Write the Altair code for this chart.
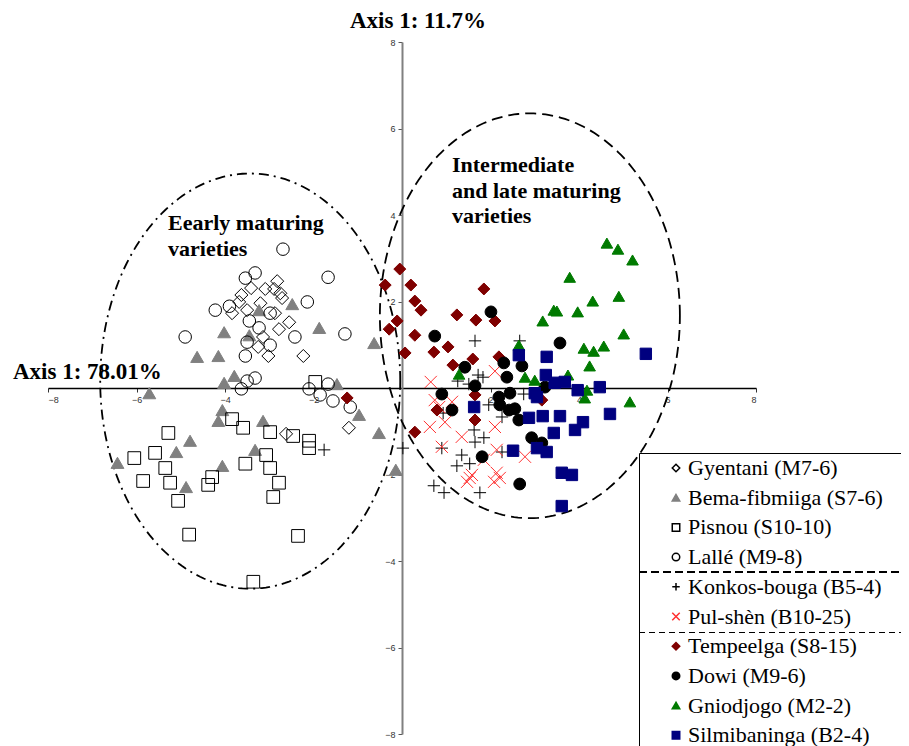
import altair as alt
import pandas as pd
import numpy as np

# ---------------- data ----------------
series_names = ["Gyentani (M7-6)", "Bema-fibmiiga (S7-6)", "Pisnou (S10-10)", "Lallé (M9-8)",
                "Konkos-bouga (B5-4)", "Pul-shèn (B10-25)", "Tempeelga (S8-15)", "Dowi (M9-6)",
                "Gniodjogo (M2-2)", "Silmibaninga (B2-4)"]

gy_x = [-2.82, -3.41, -3.09, -2.89, -2.75, -3.63, -2.71, -3.68, -3.20, -3.50, -3.84, -2.87, -2.55, -2.78, -3.14, -3.25, -3.02, -2.23, -2.62, -1.20]
gy_y = [2.47, 2.31, 2.29, 2.29, 2.19, 2.15, 2.08, 1.99, 1.96, 1.80, 1.73, 1.73, 1.52, 1.36, 1.18, 0.95, 0.74, 0.74, -1.06, -0.92]

be_x = [-2.48, -3.23, -4.02, -1.87, -0.63, -3.45, -4.63, -4.15, -3.79, -4.02, -1.47, -5.71, -4.06, -4.15, -3.14, -4.79, -5.10, -3.32, -6.43, -4.06, -4.88, -0.97, -0.52, -0.14]
be_y = [1.94, 1.80, 1.29, 1.39, 1.04, 1.22, 0.72, 0.74, 0.28, 0.12, 0.09, -0.12, -0.51, -0.76, -0.76, -1.22, -1.48, -1.43, -1.73, -1.80, -2.29, -0.62, -1.04, -1.89]

pi_x = [-3.84, -3.59, -2.98, -2.46, -2.10, -2.10, -5.28, -5.58, -6.05, -5.35, -3.07, -3.54, -2.98, -5.85, -5.24, -4.29, -4.38, -2.78, -5.06, -2.91, -4.81, -2.35, -3.36, -1.96]
pi_y = [-0.72, -0.92, -1.02, -1.11, -1.22, -1.39, -1.04, -1.50, -1.62, -1.85, -1.55, -1.75, -1.85, -2.15, -2.19, -2.06, -2.24, -2.19, -2.61, -2.52, -3.39, -3.42, -4.48, 0.14]

la_x = [-2.69, -3.54, -3.32, -1.67, -2.14, -4.22, -3.90, -3.45, -3.23, -2.98, -3.50, -2.98, -4.90, -2.42, -1.29, -3.54, -3.32, -3.50, -3.63, -2.10, -1.85, -1.67, -1.56, -1.17]
la_y = [3.21, 2.54, 2.66, 2.56, 1.99, 1.80, 1.89, 1.55, 1.39, 1.73, 1.06, 0.99, 1.18, 1.18, 1.25, 0.74, 0.23, 0.16, -0.02, -0.02, -0.16, 0.09, -0.30, -0.44]

ko_x = [1.65, 2.66, 1.72, 1.83, 1.26, 1.51, 1.96, 2.75, 0.93, 1.63, 1.65, 1.85, 2.26, 2.26, 1.35, 1.24, 1.53, 0.02, 0.90, 0.72, 0.95, 1.76, -1.76]
ko_y = [1.09, 1.09, 0.30, 0.25, 0.16, 0.09, -0.39, -0.14, -0.58, -0.97, -1.25, -1.15, -0.67, -1.48, -1.55, -1.80, -1.75, -1.39, -1.39, -2.26, -2.42, -2.42, -1.43]

pu_x = [0.65, 0.74, 1.13, 0.63, 0.97, 1.35, 2.10, 0.90, 2.14, 2.78, 1.53, 1.47, 2.14, 2.08, 1.85, 2.10, 1.58, 2.21, 0.84]
pu_y = [0.14, -0.28, -0.32, -0.90, -0.79, -1.13, -0.90, -1.36, -1.43, -1.59, -2.08, -2.17, -1.96, -2.17, -1.66, 0.39, -2.01, -2.08, -0.44]

te_x = [-0.05, 0.20, -0.38, 0.29, 0.43, -0.11, -0.29, 1.85, 1.24, 1.67, 2.10, 0.29, 1.04, 0.72, 0.07, 1.60, 1.15, 2.19, 1.65, 0.79, 1.65, 0.29, 3.16, -1.24]
te_y = [2.75, 2.38, 2.38, 2.01, 1.80, 1.55, 1.36, 2.29, 1.69, 1.57, 1.55, 1.22, 0.95, 0.83, 0.81, 0.67, 0.53, 0.72, -0.16, -0.51, -0.74, -1.02, -0.28, -0.23]

do_x = [2.01, 0.74, 3.57, 1.42, 2.30, 2.71, 2.37, 1.65, 3.23, 0.90, 1.13, 2.19, 2.44, 2.21, 2.42, 2.55, 2.64, 2.93, 3.16, 1.81, 2.66]
do_y = [1.76, 1.20, 1.04, 0.48, 0.58, 0.51, 0.25, 0.05, 0.02, -0.14, -0.51, -0.21, -0.12, -0.39, -0.51, -0.48, -0.74, -1.15, -1.27, -1.59, -2.22]

gn_x = [4.63, 4.88, 5.21, 3.79, 4.90, 4.31, 3.43, 3.50, 3.97, 3.18, 5.01, 4.11, 4.33, 4.56, 4.24, 2.64, 2.78, 3.00, 3.75, 4.18, 4.13, 5.15, 1.29]
gn_y = [3.35, 3.21, 2.96, 2.56, 2.12, 2.01, 1.80, 1.78, 1.76, 1.55, 1.25, 0.92, 0.85, 0.97, 0.51, 0.99, 0.25, 0.18, 0.30, -0.05, -0.23, -0.32, 0.32]

si_x = [2.64, 3.27, 3.25, 5.51, 3.97, 4.47, 3.00, 3.45, 3.68, 3.05, 1.63, 2.87, 3.18, 3.57, 4.09, 3.91, 3.43, 4.70, 2.51, 3.05, 3.27, 3.61, 3.84, 3.61]
si_y = [0.76, 0.72, 0.30, 0.79, -0.05, 0.02, -0.12, 0.12, 0.14, -0.21, -0.44, -0.69, -0.65, -0.65, -0.79, -0.97, -1.04, -0.60, -1.45, -1.39, -1.48, -1.96, -2.01, -2.73]

xs = [gy_x, be_x, pi_x, la_x, ko_x, pu_x, te_x, do_x, gn_x, si_x]
ys = [gy_y, be_y, pi_y, la_y, ko_y, pu_y, te_y, do_y, gn_y, si_y]

# group ellipses (centre x, centre y, radius x, radius y) in axis units
left_ellipse = (-3.43, 0.16, 3.39, 4.80)
right_ellipse = (2.89, 1.67, 3.39, 4.68)

axis_ticks = [-8, -6, -4, -2, 2, 4, 6, 8]

# ---------------- build tables ----------------
rows = []
for name, sx, sy in zip(series_names, xs, ys):
    for a, b in zip(sx, sy):
        rows.append({"series": name, "x": a, "y": b})
pts = pd.DataFrame(rows)


def ellipse_df(params):
    cx, cy, rx, ry = params
    t = np.linspace(0, 2 * np.pi, 241)
    return pd.DataFrame({"x": cx + rx * np.cos(t), "y": cy + ry * np.sin(t), "o": np.arange(len(t))})


shapes = ["diamond", "triangle-up", "square", "circle", "M-1,0H1M0,-1V1",
          "M-1,-1L1,1M-1,1L1,-1", "diamond", "circle", "triangle-up", "square"]
fills = ["transparent", "#808080", "transparent", "transparent", "transparent",
         "transparent", "#7f0000", "#000000", "#007a00", "#00007f"]
strokes = ["#000000", "#808080", "#000000", "#000000", "#000000",
           "#ff3030", "#7f0000", "#000000", "#007a00", "#00007f"]
swidths = [1.8, 1.0, 1.6, 2.0, 2.0, 1.0, 1.0, 1.0, 1.0, 1.0]
sizes = [110, 150, 110, 120, 110, 120, 130, 110, 170, 130]

W, H = 708, 692
xs_scale = alt.Scale(domain=[-8, 8], nice=False)
ys_scale = alt.Scale(domain=[-8, 8], nice=False)

x_axis = alt.Axis(orient="bottom", offset=-H / 2, values=axis_ticks, title=None, grid=False,
                  domainColor="#000000", domainWidth=1.5, tickColor="#333333", tickSize=4,
                  labelFont="Liberation Sans", labelFontSize=9, labelColor="#333333", labelPadding=3)
y_axis = alt.Axis(orient="left", offset=-W / 2, values=axis_ticks, title=None, grid=False,
                  domainColor="#808080", domainWidth=2, tickColor="#555555", tickSize=4,
                  labelFont="Liberation Sans", labelFontSize=9, labelColor="#333333", labelPadding=3)

legend_opts = dict(
    orient="none", legendX=617, legendY=415, padding=0, rowPadding=7.7, zindex=3,
    labelFont="Liberation Serif", labelFontSize=22, labelColor="black", labelLimit=400,
    labelOffset=1, symbolSize=56, symbolStrokeWidth=1.5,
)
legend = alt.Legend(title=None, **legend_opts)

ell_l = alt.Chart(ellipse_df(left_ellipse)).mark_line(
    color="black", strokeWidth=1.8, strokeDash=[10, 5, 2, 5]).encode(
    x=alt.X("x:Q", scale=xs_scale, axis=x_axis),
    y=alt.Y("y:Q", scale=ys_scale, axis=y_axis),
    order="o:Q")

ell_r = alt.Chart(ellipse_df(right_ellipse)).mark_line(
    color="black", strokeWidth=1.8, strokeDash=[11, 6]).encode(
    x=alt.X("x:Q", scale=xs_scale),
    y=alt.Y("y:Q", scale=ys_scale),
    order="o:Q")

# size / stroke-width scales list the series in reverse order so that their
# (hidden) legends are kept apart from the shape/fill/stroke legend
rev_names = series_names[::-1]
points = alt.Chart(pts).mark_point(opacity=1).encode(
    x=alt.X("x:Q", scale=xs_scale),
    y=alt.Y("y:Q", scale=ys_scale),
    shape=alt.Shape("series:N", scale=alt.Scale(domain=series_names, range=shapes), legend=legend),
    fill=alt.Fill("series:N", scale=alt.Scale(domain=series_names, range=fills), legend=legend),
    stroke=alt.Stroke("series:N", scale=alt.Scale(domain=series_names, range=strokes), legend=legend),
    strokeWidth=alt.StrokeWidth("series:N", scale=alt.Scale(domain=rev_names, range=swidths[::-1]), legend=None),
    size=alt.Size("series:N", scale=alt.Scale(domain=rev_names, range=sizes[::-1]), legend=None),
)

one = pd.DataFrame({"k": [0]})


def label(txt, x, y, size=23, weight="bold", align="left"):
    return alt.Chart(one).mark_text(
        text=txt, font="Liberation Serif", fontSize=size, fontWeight=weight,
        align=align, baseline="alphabetic", color="black").encode(
        x=alt.value(x), y=alt.value(y))


texts = [
    label("Axis 1: 11.7%", 370, -14, size=23, align="center"),
    label("Axis 1: 78.01%", -35, 337),
    label("Eearly maturing", 120, 188, size=22),
    label("varieties", 120, 214, size=22),
    label("Intermediate", 404, 130, size=22),
    label("and late maturing", 404, 156, size=22),
    label("varieties", 404, 181, size=22),
]

frame = alt.Chart(one).mark_rect(fill="white", stroke="black", strokeWidth=1).encode(
    x=alt.value(591.5), x2=alt.value(900), y=alt.value(411.5), y2=alt.value(730))

sep1 = alt.Chart(one).mark_rule(color="black", strokeWidth=2, strokeDash=[8, 4]).encode(
    x=alt.value(591), x2=alt.value(900), y=alt.value(530))
sep2 = alt.Chart(one).mark_rule(color="black", strokeWidth=1, strokeDash=[6, 4]).encode(
    x=alt.value(591), x2=alt.value(900), y=alt.value(590.5))

chart = alt.layer(ell_l, ell_r, points, *texts, frame, sep1, sep2).properties(
    width=W, height=H,
    autosize=alt.AutoSizeParams(type="none"),
    padding={"left": 40, "top": 34, "right": 145, "bottom": 12},
).configure_view(stroke=None).configure_legend(
    labelFont="Liberation Serif", labelFontSize=22, labelColor="black", labelLimit=400,
)

chart.save("out.html", embed_options={"renderer": "svg", "actions": False})
